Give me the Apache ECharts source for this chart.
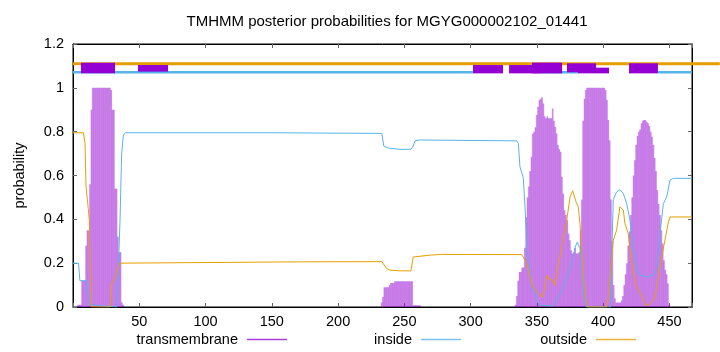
<!DOCTYPE html>
<html><head><meta charset="utf-8">
<script src="https://cdn.jsdelivr.net/npm/echarts@6/dist/echarts.min.js"></script>
<style>html,body{margin:0;padding:0;background:#fff}#c{width:720px;height:352px}</style>
</head><body><div id="c"></div>
<script>
const titleText = 'TMHMM posterior probabilities for MGYG000002102_01441';
const seriesNames = ['transmembrane', 'inside', 'outside'];
const xTickValues = [50, 100, 150, 200, 250, 300, 350, 400, 450];
const yTickValues = [0, 0.2, 0.4, 0.6, 0.8, 1, 1.2];

// transmembrane posterior per residue (three non-zero stretches)
const tmStartA = 4;
const tmValuesA = [0.01,0.01,0.01,0.12,0.12,0.12,0.28,0.35,0.35,0.56,0.9,
  1,1,1,1,1,1,1,1,1,1,1,1,1,1,
  0.99,0.9,0.9,0.54,0.54,0.32,0.25,0.25,0.02,0.01];
const tmStartB = 233;
const tmValuesB = [0.02,0.046,0.09,0.09,0.09,0.09,0.1,0.11,0.11,0.11,
  0.117,0.117,0.117,0.117,0.117,0.117,0.117,0.117,0.117,0.117,0.117,0.117,0.117,0.117,
  0.008,0.008,0.008,0.008,0.008,0.008];
const tmStartC = 334;
const tmValuesC = [0.01,0.05,0.12,0.16,0.16,0.18,0.18,0.27,0.41,0.5,
  0.55,0.62,0.685,0.79,0.8,0.82,0.876,0.914,0.944,0.95,
  0.957,0.929,0.87,0.861,0.87,0.861,0.861,0.861,0.906,0.85,
  0.822,0.792,0.739,0.72,0.708,0.594,0.518,0.442,0.42,0.396,
  0.335,0.305,0.259,0.244,0.25,0.27,0.244,0.244,0.25,0.35,
  0.49,0.85,0.95,0.99,1,1,1,1,1,1,1,1,1,1,1,1,1,1,
  0.99,0.944,0.853,0.76,0.49,0.3,0.1,0.04,0.02,0.02,
  0.02,0.02,0.03,0.05,0.1,0.15,0.2,0.28,0.345,0.42,
  0.5,0.6,0.67,0.74,0.78,0.8,0.81,0.838,0.85,0.853,
  0.853,0.845,0.838,0.826,0.8,0.777,0.74,0.68,0.62,0.533,
  0.47,0.42,0.35,0.29,0.213,0.17,0.15,0.107,0.01];

// inside / outside posterior: [residue, probability]
const insideProb = [[0,0.2],[4.2,0.2],[5.2,0.12],[10.3,0.12],[12,0.01],[33,0.0],[34.2,0.17],[35.5,0.4],[36.7,0.7],[38,0.784],[39.5,0.795],
  [151,0.795],[152,0.792],[233,0.792],[234.5,0.734],[238,0.725],[247.5,0.719],[255,0.72],[256.7,0.735],[258,0.758],[262,0.762],
  [334.7,0.758],[336,0.746],[337.2,0.64],[339.7,0.59],[341,0.457],[342.3,0.305],[343.5,0.198],[346,0.107],[349.8,0.03],[352.3,0.008],
  [362.4,0.005],[364.9,0.03],[369.9,0.09],[375,0.18],[377.5,0.23],[378.7,0.27],[380.5,0.297],[381.5,0.28],[382.5,0.27],[383.5,0.2],
  [385.5,0.05],[387.5,0.0],[405.5,0.0],[406.5,0.25],[407.6,0.49],[410.1,0.525],[412.6,0.536],[415.2,0.518],[417.7,0.472],[420.2,0.396],
  [422.7,0.274],[425.3,0.168],[427.8,0.145],[432.8,0.137],[437.8,0.145],[440.3,0.175],[442.9,0.335],[445.4,0.472],[447.9,0.502],
  [450.4,0.579],[452.9,0.587],[467,0.587]];
const outsideProb = [[0,0.795],[7.8,0.795],[9.1,0.746],[9.8,0.55],[11.5,0.45],[12.3,0.396],[13.3,0.09],[14.1,0.0],[28,0.0],[29.2,0.107],
  [30.4,0.11],[31.7,0.137],[33,0.152],[34.2,0.183],[35.5,0.2],[37,0.205],[171,0.206],[233,0.207],[234.2,0.2],[236.7,0.175],[239.2,0.168],
  [247,0.165],[255,0.165],[256.7,0.228],[258,0.235],[270,0.237],[278,0.24],[338.5,0.239],[339.7,0.228],[342.3,0.198],[344.8,0.137],
  [347.3,0.091],[349.8,0.069],[352.3,0.053],[354.3,0.046],[356.1,0.091],[357.4,0.145],[358.6,0.13],[359.9,0.13],[361.1,0.125],
  [362.4,0.114],[363.6,0.099],[364.9,0.152],[367.4,0.228],[369.9,0.32],[372.5,0.396],[375,0.502],[377,0.53],[378.2,0.533],[379.5,0.48],
  [381.2,0.457],[382.5,0.38],[383.7,0.259],[385,0.137],[386.2,0.061],[387.5,0.015],[388.7,0.0],[402.6,0.0],[403.9,0.046],[406.4,0.213],
  [407.6,0.305],[410.1,0.35],[412.6,0.457],[413.9,0.46],[415.2,0.442],[416.4,0.381],[418.9,0.335],[420.2,0.259],[421.5,0.213],[424,0.107],
  [426.5,0.076],[429,0.053],[431.5,0.012],[434,0.008],[436.6,0.023],[439.1,0.046],[441.6,0.137],[444.1,0.228],[446.6,0.305],
  [449.2,0.388],[450.4,0.411],[467,0.411]];

// topology annotation band above the plot: [startResidue, endResidue, upper, lower]
const outsideBand = [[0, 488, 1.117, 1.103]];
const insideBand = [[0, 301.8, 1.077, 1.065], [352.3, 381, 1.077, 1.065], [441.3, 467, 1.077, 1.065]];
const tmBoxes = [[6, 31.7, 1.115, 1.066], [49, 71.7, 1.104, 1.074], [301.8, 324.4, 1.104, 1.066],
  [329, 352.3, 1.104, 1.066], [346.3, 369, 1.115, 1.066], [372.7, 394.6, 1.112, 1.071],
  [381, 404.4, 1.092, 1.066], [419.5, 441.3, 1.112, 1.066]];

function segToPairs(start, vals) { return vals.map((v, i) => [start + i, v]); }
const tmData = [].concat(segToPairs(tmStartA, tmValuesA), segToPairs(tmStartB, tmValuesB), segToPairs(tmStartC, tmValuesC));

const FONT = 'Liberation Sans, Arial, Helvetica, sans-serif';
const C_TM = '#9400D3', C_IN = '#56B4E9', C_OUT = '#E69F00';

function bandRender(fillColor) {
  return function (params, api) {
    const p0 = api.coord([api.value(0), api.value(2)]);
    const p1 = api.coord([api.value(1), api.value(3)]);
    return { type: 'rect', shape: { x: p0[0], y: p0[1], width: p1[0] - p0[0], height: p1[1] - p0[1] },
      style: { fill: fillColor } };
  };
}

const chart = echarts.init(document.getElementById('c'), null, { renderer: 'canvas' });
const axisCommon = { type: 'value', splitLine: { show: false },
  axisLine: { show: true, onZero: false, lineStyle: { color: '#000', width: 1 } },
  axisTick: { show: true, inside: true, length: 4, lineStyle: { color: '#666', width: 1 } } };
const legendCommon = { top: 332, align: 'right', padding: 0, itemWidth: 40, itemHeight: 1.5,
  textStyle: { fontFamily: FONT, fontSize: 14.5, color: '#000', padding: [0, 4, 0, 0] } };

chart.setOption({
  animation: false,
  backgroundColor: '#fff',
  color: ['#a640dd', '#7cc4ee', '#ecb440', C_OUT, C_IN, C_TM],
  title: { text: titleText, left: 382, top: 9, textAlign: 'center',
    textStyle: { fontFamily: FONT, fontSize: 15, fontWeight: 'normal', color: '#000' } },
  grid: { left: 73, right: 28, top: 44, bottom: 45, show: true, borderColor: '#000', borderWidth: 1 },
  legend: [
    Object.assign({}, legendCommon, { right: 433, data: [{ name: seriesNames[0], icon: 'rect' }] }),
    Object.assign({}, legendCommon, { right: 259, data: [{ name: seriesNames[1], icon: 'rect' }] }),
    Object.assign({}, legendCommon, { right: 84, data: [{ name: seriesNames[2], icon: 'rect' }] })
  ],
  xAxis: [
    Object.assign({}, axisCommon, { min: 0, max: 467, interval: 50, position: 'bottom',
      axisLabel: { color: '#000', fontFamily: FONT, fontSize: 14.5, margin: 7,
        formatter: v => (xTickValues.indexOf(v) >= 0 ? String(v) : '') } }),
    Object.assign({}, axisCommon, { min: 0, max: 467, interval: 50, position: 'top', axisLabel: { show: false } })
  ],
  yAxis: [
    Object.assign({}, axisCommon, { min: 0, max: 1.2, interval: 0.2, position: 'left',
      name: 'probability', nameLocation: 'middle', nameGap: 46,
      nameTextStyle: { fontFamily: FONT, fontSize: 14.5, color: '#000' },
      axisLabel: { color: '#000', fontFamily: FONT, fontSize: 14.5, margin: 9,
        formatter: v => { const r = Math.round(v * 10) / 10; return yTickValues.indexOf(r) >= 0 ? String(r) : ''; } } }),
    Object.assign({}, axisCommon, { min: 0, max: 1.2, interval: 0.2, position: 'right', axisLabel: { show: false } })
  ],
  series: [
    { name: seriesNames[0], type: 'custom', xAxisIndex: 0, yAxisIndex: 0, z: 2,
      encode: { x: 0, y: 1 }, data: tmData,
      renderItem: function (params, api) {
        const x = api.value(0), v = api.value(1);
        const p0 = api.coord([x - 0.5, v]);
        const p1 = api.coord([x + 0.5, 0]);
        return { type: 'group', children: [
          { type: 'rect', shape: { x: p0[0], y: p0[1], width: p1[0] - p0[0], height: p1[1] - p0[1] },
            style: { fill: 'rgba(148,0,211,0.44)' } },
          { type: 'line', shape: { x1: p0[0], y1: p0[1], x2: p0[0], y2: p1[1] },
            style: { stroke: 'rgba(148,0,211,0.45)', lineWidth: 0.5 } }
        ] };
      } },
    { name: seriesNames[1], type: 'line', xAxisIndex: 0, yAxisIndex: 0, z: 3, data: insideProb,
      showSymbol: false, symbol: 'none', lineStyle: { color: C_IN, width: 1 } },
    { name: seriesNames[2], type: 'line', xAxisIndex: 0, yAxisIndex: 0, z: 3, data: outsideProb,
      showSymbol: false, symbol: 'none', lineStyle: { color: C_OUT, width: 1 } },
    { name: 'outsideBand', type: 'custom', z: 4, clip: false, data: outsideBand, encode: { x: [0, 1], y: [2, 3] },
      renderItem: bandRender(C_OUT) },
    { name: 'insideBand', type: 'custom', z: 4, clip: false, data: insideBand, encode: { x: [0, 1], y: [2, 3] },
      renderItem: bandRender(C_IN) },
    { name: 'tmBand', type: 'custom', z: 5, clip: false, data: tmBoxes, encode: { x: [0, 1], y: [2, 3] },
      renderItem: bandRender(C_TM) }
  ]
});
</script></body></html>
